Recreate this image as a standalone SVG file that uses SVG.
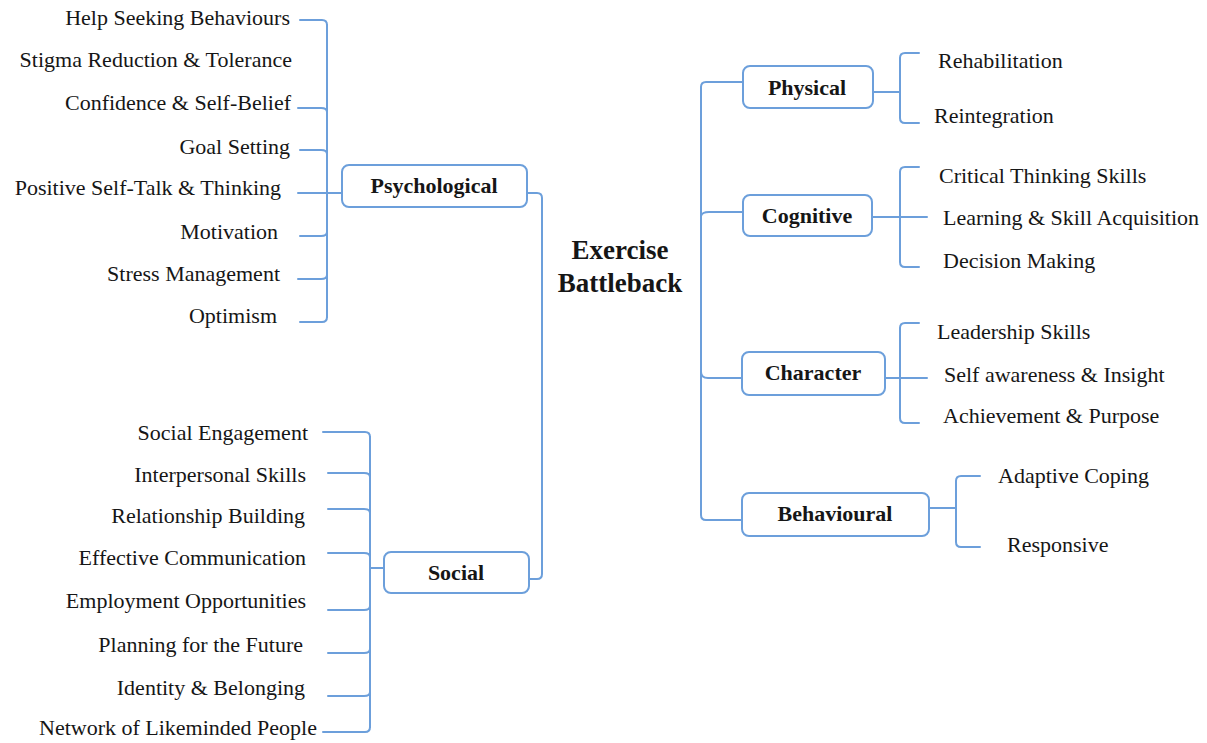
<svg xmlns="http://www.w3.org/2000/svg" width="1207" height="743" viewBox="0 0 1207 743">
  <style>
    .leaf { font-family: "Liberation Serif", "Times New Roman", serif; font-size: 22px; fill: #161616; }
    .end { text-anchor: end; }
    .node rect { fill: #ffffff; stroke: #6c9fdb; stroke-width: 2; }
    .node text { font-family: "Liberation Serif", "Times New Roman", serif; font-size: 22px; font-weight: bold; fill: #161616; text-anchor: middle; }
    .title { font-family: "Liberation Serif", "Times New Roman", serif; font-size: 27px; font-weight: bold; fill: #161616; text-anchor: middle; }
    .links path { fill: none; stroke: #6c9fdb; stroke-width: 2; stroke-linecap: round; }
  </style>
  <rect width="1207" height="743" fill="#ffffff"/>

  <!-- connectors -->
  <g class="links" id="connectors">
    <!-- Psychological bracket -->
    <path d="M 327 25 V 317"/>
    <path d="M 300 20 H 322 Q 327 20 327 25"/>
    <path d="M 298 108 H 321 Q 327 108 327 112"/>
    <path d="M 300 150 H 321 Q 327 150 327 154"/>
    <path d="M 298 193 H 342"/>
    <path d="M 300 236 H 321 Q 327 236 327 232"/>
    <path d="M 298 279 H 321 Q 327 279 327 275"/>
    <path d="M 300 322 H 322 Q 327 322 327 317"/>
    <!-- Social bracket -->
    <path d="M 370 437 V 727"/>
    <path d="M 323 432 H 365 Q 370 432 370 437"/>
    <path d="M 328 473 H 364 Q 370 473 370 477"/>
    <path d="M 328 509 H 364 Q 370 509 370 513"/>
    <path d="M 328 553 H 364 Q 370 553 370 557"/>
    <path d="M 370 568 H 384"/>
    <path d="M 328 610 H 364 Q 370 610 370 606"/>
    <path d="M 328 653 H 364 Q 370 653 370 649"/>
    <path d="M 328 696 H 364 Q 370 696 370 692"/>
    <path d="M 323 732 H 365 Q 370 732 370 727"/>
    <!-- left trunk -->
    <path d="M 527 193 H 537 Q 542 193 542 198 V 574 Q 542 579 537 579 H 529"/>
    <!-- right trunk -->
    <path d="M 743 82 H 706 Q 701 82 701 87 V 515 Q 701 520 706 520 H 742"/>
    <path d="M 701 216 Q 702 212 709 212 H 743"/>
    <path d="M 701 372 Q 701 378 708 378 H 742"/>
    <!-- Physical bracket -->
    <path d="M 873 92 H 900"/>
    <path d="M 919 53 H 905 Q 900 53 900 58 V 118 Q 900 123 905 123 H 919"/>
    <!-- Cognitive bracket -->
    <path d="M 872 217 H 927"/>
    <path d="M 919 167 H 905 Q 900 167 900 172 V 262 Q 900 267 905 267 H 919"/>
    <!-- Character bracket -->
    <path d="M 885 378 H 927"/>
    <path d="M 919 323 H 905 Q 900 323 900 328 V 418 Q 900 423 905 423 H 919"/>
    <!-- Behavioural bracket -->
    <path d="M 929 508 H 956"/>
    <path d="M 980 476 H 961 Q 956 476 956 481 V 542 Q 956 547 961 547 H 980"/>
  </g>

  <!-- central topic -->
  <g id="exercise-battleback">
    <text class="title" x="620" y="259">Exercise</text>
    <text class="title" x="620" y="292">Battleback</text>
  </g>

  <!-- main branches -->
  <g class="node" id="psychological">
    <rect x="342" y="165" width="185" height="42" rx="7"/>
    <text x="434" y="193">Psychological</text>
  </g>
  <g class="node" id="social">
    <rect x="384" y="552" width="145" height="41" rx="7"/>
    <text x="456" y="580">Social</text>
  </g>
  <g class="node" id="physical">
    <rect x="743" y="66" width="130" height="42" rx="7"/>
    <text x="807" y="95">Physical</text>
  </g>
  <g class="node" id="cognitive">
    <rect x="743" y="195" width="129" height="41" rx="7"/>
    <text x="807" y="223">Cognitive</text>
  </g>
  <g class="node" id="character">
    <rect x="742" y="352" width="143" height="43" rx="7"/>
    <text x="813" y="380">Character</text>
  </g>
  <g class="node" id="behavioural">
    <rect x="742" y="493" width="187" height="43" rx="7"/>
    <text x="835" y="521">Behavioural</text>
  </g>

  <!-- psychological leaves -->
  <g id="psych-help"><text class="leaf end" x="290" y="25">Help Seeking Behaviours</text></g>
  <g id="psych-stigma"><text class="leaf end" x="292" y="67">Stigma Reduction &amp; Tolerance</text></g>
  <g id="psych-confidence"><text class="leaf end" x="291" y="110">Confidence &amp; Self-Belief</text></g>
  <g id="psych-goal"><text class="leaf end" x="290" y="154">Goal Setting</text></g>
  <g id="psych-selftalk"><text class="leaf end" x="281" y="195">Positive Self-Talk &amp; Thinking</text></g>
  <g id="psych-motivation"><text class="leaf end" x="278" y="239">Motivation</text></g>
  <g id="psych-stress"><text class="leaf end" x="280" y="281">Stress Management</text></g>
  <g id="psych-optimism"><text class="leaf end" x="277" y="323">Optimism</text></g>

  <!-- social leaves -->
  <g id="social-engagement"><text class="leaf end" x="308" y="440">Social Engagement</text></g>
  <g id="social-interpersonal"><text class="leaf end" x="306" y="482">Interpersonal Skills</text></g>
  <g id="social-relationship"><text class="leaf end" x="305" y="523">Relationship Building</text></g>
  <g id="social-communication"><text class="leaf end" x="306" y="565">Effective Communication</text></g>
  <g id="social-employment"><text class="leaf end" x="306" y="608">Employment Opportunities</text></g>
  <g id="social-planning"><text class="leaf end" x="303" y="652">Planning for the Future</text></g>
  <g id="social-identity"><text class="leaf end" x="305" y="695">Identity &amp; Belonging</text></g>
  <g id="social-network"><text class="leaf end" x="317" y="735">Network of Likeminded People</text></g>

  <!-- physical leaves -->
  <g id="phys-rehab"><text class="leaf" x="938" y="68">Rehabilitation</text></g>
  <g id="phys-reint"><text class="leaf" x="934" y="123">Reintegration</text></g>

  <!-- cognitive leaves -->
  <g id="cog-critical"><text class="leaf" x="939" y="183">Critical Thinking Skills</text></g>
  <g id="cog-learning"><text class="leaf" x="943" y="225">Learning &amp; Skill Acquisition</text></g>
  <g id="cog-decision"><text class="leaf" x="943" y="268">Decision Making</text></g>

  <!-- character leaves -->
  <g id="char-leadership"><text class="leaf" x="937" y="339">Leadership Skills</text></g>
  <g id="char-awareness"><text class="leaf" x="944" y="382">Self awareness &amp; Insight</text></g>
  <g id="char-achievement"><text class="leaf" x="943" y="423">Achievement &amp; Purpose</text></g>

  <!-- behavioural leaves -->
  <g id="beh-coping"><text class="leaf" x="998" y="483">Adaptive Coping</text></g>
  <g id="beh-responsive"><text class="leaf" x="1007" y="552">Responsive</text></g>
</svg>
